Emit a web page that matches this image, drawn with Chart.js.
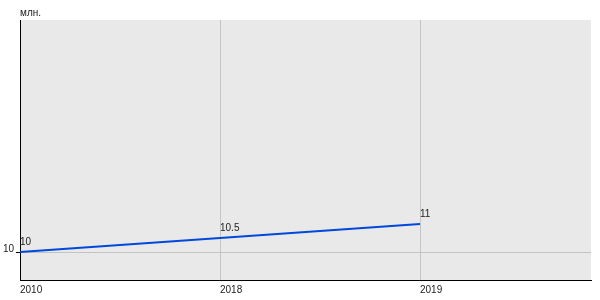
<!DOCTYPE html>
<html>
<head>
<meta charset="utf-8">
<script src="https://cdn.jsdelivr.net/npm/chart.js@4/dist/chart.umd.min.js"></script>
<style>
html,body{margin:0;padding:0;background:#fff;}
#wrap{width:600px;height:300px;}
</style>
</head>
<body>
<div id="wrap"><canvas id="c" width="600" height="300"></canvas></div>
<script>
const categories = ['2010', '2018', '2019'];
const values = [10, 10.5, 11];
const valueLabels = ['10', '10.5', '11'];
const yTicks = [10];
const unitLabel = 'млн.';

const points = values.map((v, i) => ({ x: i, y: v }));

const bgPlugin = {
  id: 'bg',
  beforeDraw(chart) {
    const { ctx, chartArea: a } = chart;
    ctx.save();
    ctx.fillStyle = '#e9e9e9';
    ctx.fillRect(a.left, a.top, a.right - a.left, a.bottom - a.top);
    ctx.restore();
  },
  afterDraw(chart) {
    const { ctx, chartArea: a } = chart;
    ctx.save();
    ctx.font = '10px "Liberation Sans", Arial, sans-serif';
    ctx.fillStyle = '#222';
    ctx.textAlign = 'left';
    ctx.textBaseline = 'alphabetic';
    ctx.fillText(unitLabel, a.left, 16);
    const meta = chart.getDatasetMeta(0);
    meta.data.forEach((pt, i) => {
      ctx.fillText(valueLabels[i], pt.x, pt.y - 7);
    });
    ctx.restore();
  }
};

new Chart(document.getElementById('c'), {
  type: 'line',
  data: {
    datasets: [{
      data: points,
      borderColor: '#0048dc',
      borderWidth: 2,
      pointRadius: 0,
      tension: 0,
      fill: false
    }]
  },
  options: {
    responsive: false,
    animation: false,
    devicePixelRatio: 1,
    layout: { padding: { top: 20, right: 9, left: 0, bottom: 0 } },
    plugins: { legend: { display: false }, tooltip: { enabled: false } },
    scales: {
      x: {
        type: 'linear',
        min: 0,
        max: 2.855,
        afterBuildTicks(scale) { scale.ticks = categories.map((c, i) => ({ value: i })); },
        afterFit(scale) { scale.height = 20; },
        ticks: {
          align: 'start',
          maxRotation: 0,
          padding: 4,
          color: '#222',
          font: { family: '"Liberation Sans", Arial, sans-serif', size: 10 },
          callback(v) { return categories[v] ?? ''; }
        },
        grid: { color: '#c4c4c4', drawTicks: false, lineWidth: 1 },
        border: { color: '#000', width: 1 }
      },
      y: {
        min: 9,
        max: 18.29,
        afterBuildTicks(scale) { scale.ticks = yTicks.map(v => ({ value: v })); },
        afterFit(scale) { scale.width = 20; },
        ticks: {
          padding: 2,
          labelOffset: -3,
          color: '#222',
          font: { family: '"Liberation Sans", Arial, sans-serif', size: 10 }
        },
        grid: { color: '#c4c4c4', tickColor: '#000', tickLength: 4, lineWidth: 1 },
        border: { color: '#000', width: 1 }
      }
    }
  },
  plugins: [bgPlugin]
});
</script>
</body>
</html>
